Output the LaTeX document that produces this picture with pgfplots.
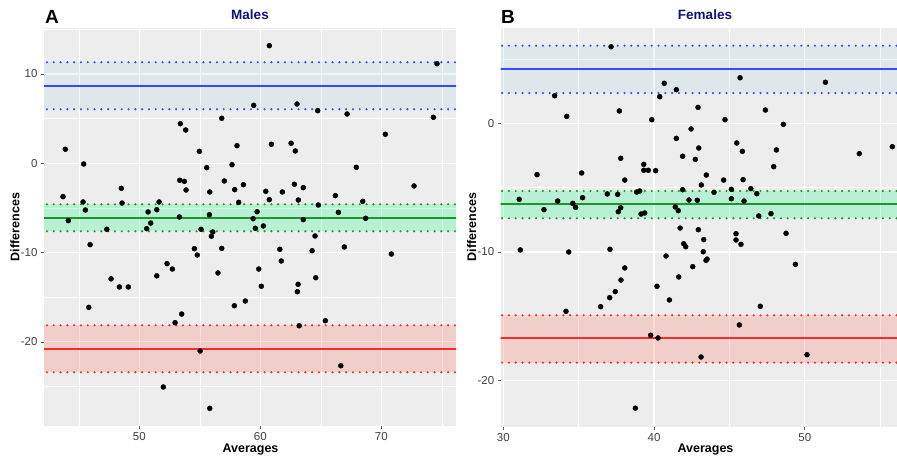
\documentclass[border=0pt]{standalone}
\usepackage{pgfplots}
\pgfplotsset{compat=1.18}
\usepackage{pgfplotstable}
\usepackage{fontspec}
\setmainfont{Liberation Sans}

\definecolor{panelbg}{HTML}{EDEDED}
\definecolor{loaBlue}{RGB}{55,75,245}
\definecolor{meanGreen}{RGB}{30,150,45}
\definecolor{loaRed}{RGB}{245,45,40}
\definecolor{bandBlue}{RGB}{173,216,230}
\definecolor{bandGreen}{RGB}{0,255,127}
\definecolor{bandRed}{RGB}{255,100,80}
\definecolor{titleNavy}{RGB}{15,15,130}

% Males: average and difference of the two measurements
\pgfplotstableread{
x y
60.74 13.17
74.60 11.15
59.45 6.49
63.03 6.64
64.74 5.89
67.17 5.52
56.81 5.04
74.30 5.15
53.39 4.43
53.83 3.73
70.33 3.25
43.88 1.57
54.96 1.34
58.07 1.97
60.91 2.13
62.54 2.24
62.89 1.38
45.40 -0.08
57.66 -0.16
55.57 -0.49
67.93 -0.45
53.34 -1.90
53.72 -2.02
57.02 -1.98
62.81 -2.35
58.60 -2.40
72.70 -2.54
63.55 -2.73
48.51 -2.80
53.86 -2.99
57.88 -2.95
55.82 -3.21
60.45 -3.14
61.82 -3.21
43.69 -3.74
66.20 -3.62
60.74 -4.07
63.14 -4.11
68.46 -4.26
45.35 -4.33
48.57 -4.45
51.63 -4.33
58.21 -4.37
64.79 -4.67
45.54 -5.23
50.72 -5.45
51.44 -5.20
55.79 -5.76
59.73 -5.42
66.45 -5.49
53.31 -6.01
59.40 -6.20
68.70 -6.16
44.13 -6.42
50.94 -6.69
63.55 -6.31
60.25 -7.02
47.31 -7.39
50.61 -7.32
55.10 -7.39
59.59 -7.28
56.07 -7.69
55.95 -8.17
64.52 -8.14
45.93 -9.11
54.55 -9.56
54.79 -10.27
56.81 -9.52
61.61 -9.63
64.28 -9.79
66.94 -9.37
70.83 -10.16
61.73 -10.94
52.29 -11.24
52.73 -11.84
59.87 -11.84
51.44 -12.60
56.50 -12.28
47.66 -12.94
64.58 -12.81
48.35 -13.85
49.09 -13.85
60.08 -13.77
63.12 -13.55
63.06 -14.38
58.76 -15.42
45.82 -16.13
57.85 -15.95
53.50 -16.88
52.95 -17.85
65.37 -17.63
63.21 -18.19
55.02 -21.02
66.65 -22.67
51.98 -25.05
55.82 -27.44
}\malesdata

% Females
\pgfplotstableread{
x y
37.15 5.95
40.68 3.11
41.48 2.61
45.71 3.54
51.37 3.19
33.41 2.14
40.38 2.07
37.70 0.96
42.92 1.24
47.39 1.03
34.21 0.54
39.85 0.28
44.71 0.28
48.58 -0.08
42.46 -0.44
41.48 -1.17
45.49 -1.53
42.97 -1.92
55.81 -1.82
45.86 -2.18
48.12 -2.07
53.62 -2.36
37.79 -2.72
41.90 -2.56
42.74 -2.80
39.32 -3.19
47.94 -3.37
39.32 -3.65
39.62 -3.65
40.11 -3.68
32.24 -3.99
35.20 -3.86
43.47 -4.02
38.06 -4.41
44.62 -4.41
45.91 -4.38
43.14 -4.79
41.90 -5.16
45.13 -5.13
46.42 -5.08
38.85 -5.34
39.05 -5.26
43.98 -5.36
36.90 -5.49
37.59 -5.52
46.82 -5.47
31.06 -5.91
35.26 -5.78
45.13 -5.86
33.61 -6.04
42.32 -5.96
42.87 -5.98
45.97 -6.04
34.61 -6.22
34.80 -6.53
37.79 -6.56
41.41 -6.50
32.70 -6.71
37.63 -6.87
41.61 -6.79
39.14 -7.05
39.38 -6.97
47.76 -7.02
46.95 -7.20
41.73 -8.14
42.94 -8.27
43.30 -9.04
45.44 -8.58
45.44 -9.07
45.77 -9.40
48.76 -8.55
41.97 -9.36
42.10 -9.59
31.13 -9.84
34.34 -10.00
37.08 -9.79
43.27 -9.98
43.45 -10.65
43.52 -10.55
40.80 -10.31
42.57 -11.14
38.06 -11.24
37.81 -12.18
37.43 -13.08
37.06 -13.55
36.46 -14.25
34.16 -14.61
40.20 -12.67
41.64 -11.94
41.02 -13.73
49.38 -10.96
47.05 -14.22
45.66 -15.67
39.78 -16.47
40.27 -16.68
43.12 -18.16
50.15 -17.98
38.76 -22.14
}\femalesdata

\pgfplotsset{
  baplot/.style={
    scale only axis, anchor=south west,
    axis background/.style={fill=panelbg},
    axis line style={draw=none},
    grid=both,
    major grid style={white, line width=1.1pt},
    minor grid style={white, line width=0.55pt},
    tick align=outside, major tick length=3pt, minor tick length=0pt,
    tick style={color=gray!70!black, line width=0.6pt},
    xtick pos=bottom, ytick pos=left,
    ticklabel style={font=\fontsize{11.5}{11.5}\selectfont, text=black!75},
    /pgf/number format/assume math mode=true,
  },
  pts/.style={only marks, mark=*, mark size=2.5pt, mark options={fill=black, draw=none}},
  band/.style={draw=none, fill=#1, fill opacity=0.22},
  solidline/.style={#1, line width=1.8pt},
  dotline/.style={#1, line width=2.4pt, line cap=round, dash pattern=on 0pt off 6.8pt},
}

\begin{document}
\begin{tikzpicture}
\useasboundingbox (0,0) rectangle (897pt,458pt);

% Panel A: males
\begin{axis}[baplot, at={(44pt,31.7pt)}, width=412pt, height=398.3pt,
  xmin=42.12, xmax=76.17, ymin=-29.45, ymax=15.15,
  xtick={50,60,70}, xticklabels={50,60,70},
  minor xtick={45,55,65,75},
  ytick={-20,-10,0,10}, yticklabels={-20,-10,0,10},
  minor ytick={-25,-15,-5,5,15}]
  \addplot[pts] table[x=x, y=y] {\malesdata};
  % limits of agreement with their confidence bands
  \addplot[band=bandBlue] coordinates {(30,6.05) (90,6.05) (90,11.31) (30,11.31)} -- cycle;
  \addplot[band=bandGreen] coordinates {(30,-7.61) (90,-7.61) (90,-4.59) (30,-4.59)} -- cycle;
  \addplot[band=bandRed] coordinates {(30,-23.40) (90,-23.40) (90,-18.14) (30,-18.14)} -- cycle;
  \addplot[dotline=loaBlue] coordinates {(30,11.31) (90,11.31)};
  \addplot[dotline=loaBlue] coordinates {(30,6.05) (90,6.05)};
  \addplot[dotline=meanGreen] coordinates {(30,-4.59) (90,-4.59)};
  \addplot[dotline=meanGreen] coordinates {(30,-7.61) (90,-7.61)};
  \addplot[dotline=loaRed] coordinates {(30,-18.14) (90,-18.14)};
  \addplot[dotline=loaRed] coordinates {(30,-23.40) (90,-23.40)};
  \addplot[solidline=loaBlue] coordinates {(30,8.66) (90,8.66)};
  \addplot[solidline=meanGreen] coordinates {(30,-6.16) (90,-6.16)};
  \addplot[solidline=loaRed] coordinates {(30,-20.76) (90,-20.76)};
\end{axis}

% Panel B: females
\begin{axis}[baplot, at={(500.7pt,31pt)}, width=396.3pt, height=399.3pt,
  xmin=29.83, xmax=56.12, ymin=-23.6, ymax=7.43,
  xtick={30,40,50}, xticklabels={30,40,50},
  minor xtick={35,45,55},
  ytick={-20,-10,0}, yticklabels={-20,-10,0},
  minor ytick={-15,-5,5}]
  \addplot[pts] table[x=x, y=y] {\femalesdata};
  \addplot[band=bandBlue] coordinates {(20,2.35) (70,2.35) (70,6.03) (20,6.03)} -- cycle;
  \addplot[band=bandGreen] coordinates {(20,-7.38) (70,-7.38) (70,-5.26) (20,-5.26)} -- cycle;
  \addplot[band=bandRed] coordinates {(20,-18.60) (70,-18.60) (70,-14.92) (20,-14.92)} -- cycle;
  \addplot[dotline=loaBlue] coordinates {(20,6.03) (70,6.03)};
  \addplot[dotline=loaBlue] coordinates {(20,2.35) (70,2.35)};
  \addplot[dotline=meanGreen] coordinates {(20,-5.26) (70,-5.26)};
  \addplot[dotline=meanGreen] coordinates {(20,-7.38) (70,-7.38)};
  \addplot[dotline=loaRed] coordinates {(20,-14.92) (70,-14.92)};
  \addplot[dotline=loaRed] coordinates {(20,-18.60) (70,-18.60)};
  \addplot[solidline=loaBlue] coordinates {(20,4.20) (70,4.20)};
  \addplot[solidline=meanGreen] coordinates {(20,-6.29) (70,-6.29)};
  \addplot[solidline=loaRed] coordinates {(20,-16.71) (70,-16.71)};
\end{axis}

% panel letters, titles and axis labels
\node[anchor=base west, inner sep=0pt, font=\bfseries\fontsize{19}{19}\selectfont] at (45pt,434.7pt) {A};
\node[anchor=base west, inner sep=0pt, font=\bfseries\fontsize{19}{19}\selectfont] at (501pt,434.7pt) {B};
\node[anchor=base, inner sep=0pt, text=titleNavy, font=\bfseries\fontsize{13.5}{13.5}\selectfont] at (250pt,438pt) {Males};
\node[anchor=base, inner sep=0pt, text=titleNavy, font=\bfseries\fontsize{13.5}{13.5}\selectfont] at (705pt,438pt) {Females};
\node[anchor=base, inner sep=0pt, font=\bfseries\fontsize{12.5}{12.5}\selectfont] at (250.5pt,5.5pt) {Averages};
\node[anchor=base, inner sep=0pt, font=\bfseries\fontsize{12.5}{12.5}\selectfont] at (705.5pt,5.5pt) {Averages};
\node[anchor=base, rotate=90, inner sep=0pt, font=\bfseries\fontsize{12.5}{12.5}\selectfont] at (19.3pt,231pt) {Differences};
\node[anchor=base, rotate=90, inner sep=0pt, font=\bfseries\fontsize{12.5}{12.5}\selectfont] at (476pt,231pt) {Differences};
\end{tikzpicture}
\end{document}
